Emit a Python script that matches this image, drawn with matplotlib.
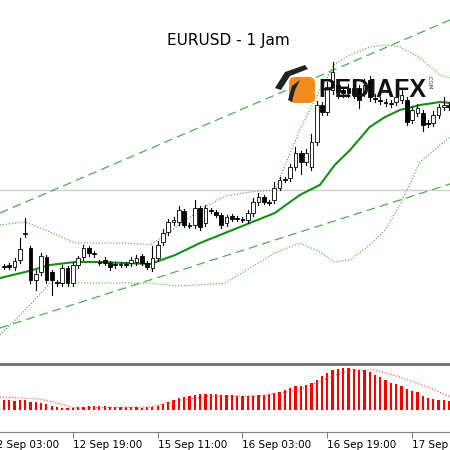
import numpy as np
import matplotlib.pyplot as plt
from matplotlib.patches import Rectangle, FancyBboxPatch, Polygon

# price values are in points below the top of the visible range (chart has no price scale)
opens = [266, 265, 267, 260, 234, 248, 280, 272, 257, 272, 282, 283, 268, 283, 265,
         257, 248, 253, 262, 260, 263, 264, 265, 264, 263, 262, 256, 263, 268, 258,
         242, 232, 222, 222, 211, 225, 225, 208, 223, 210, 212, 215, 223, 216, 218,
         219, 220, 213, 202, 197, 202, 200, 188, 179, 178, 167, 153, 162, 167, 142,
         105, 112, 90, 85, 90, 88, 95, 88, 93, 80, 98, 100, 102, 103, 102,
         100, 100, 120, 113, 113, 123, 123, 115, 107, 105]
closes = [267, 267, 261, 249, 233, 280, 274, 256, 280, 280, 283, 268, 283, 265, 258,
          248, 253, 254, 263, 263, 267, 265, 264, 265, 260, 258, 263, 267, 258, 245,
          233, 222, 220, 210, 225, 226, 208, 227, 208, 211, 215, 225, 217, 219, 219,
          220, 213, 202, 197, 202, 203, 188, 180, 180, 167, 153, 162, 153, 142, 105,
          112, 87, 72, 92, 93, 93, 88, 100, 85, 97, 99, 101, 103, 104, 97,
          95, 122, 110, 108, 125, 124, 115, 107, 105, 107]
wick_up = [2, 2, 3, 11, 15, 2, 4, 3, 2, 2, 2, 3, 2, 3, 2,
           3, 2, 2, 2, 3, 2, 2, 2, 2, 3, 3, 2, 2, 12, 4,
           4, 3, 3, 4, 2, 2, 8, 2, 3, 2, 2, 2, 2, 2, 2,
           2, 3, 4, 4, 2, 2, 6, 3, 2, 3, 6, 2, 4, 8, 4,
           3, 5, 10, 4, 3, 4, 3, 3, 6, 4, 4, 3, 3, 3, 3,
           6, 3, 3, 4, 3, 3, 4, 3, 8, 3]
wick_dn = [2, 2, 3, 3, 3, 3, 10, 3, 3, 15, 3, 3, 3, 3, 3,
           3, 3, 3, 2, 2, 3, 3, 2, 2, 3, 3, 2, 2, 3, 3,
           3, 3, 3, 3, 2, 2, 3, 3, 3, 2, 2, 3, 3, 2, 2,
           2, 3, 3, 3, 2, 2, 3, 2, 2, 3, 3, 12, 3, 3, 3,
           3, 3, 4, 6, 4, 4, 3, 8, 3, 4, 3, 3, 3, 3, 3,
           3, 3, 3, 3, 6, 3, 3, 3, 3, 3]

# indicator lines, sampled along the bar axis
line_x = [-0.75, 4, 8.7, 13.4, 18.1, 22.8, 27.6, 32.3, 37, 41.7, 46.4, 51.1, 55.8,
          59.6, 62.4, 65.3, 69, 71.9, 74.7, 78.5, 82.3, 84.2]
ma = [278, 272, 265, 262, 262, 263, 264, 255, 243, 233, 223, 213, 195, 185, 165, 150,
      127, 117, 110, 105, 102, 103]
upper = [225, 222, 232, 243, 243, 243, 245, 228, 210, 196, 192, 190, 130, 90, 64, 55,
         47, 45, 47, 58, 75, 78]
lower = [335, 310, 283, 283, 283, 283, 283, 286, 285, 283, 268, 253, 243, 252, 262, 260,
         245, 230, 205, 162, 145, 137]

chan_x = [-0.75, 84.15]
chan_top = [213, 20]
chan_bot = [328, 184]
level = 190

macd = [10, 10, 9, 10, 10, 8, 8, 7, 6, 4, 3, 2, 2, 2, 3, 3, 4, 4, 4, 4, 3, 3, 3, 3, 3,
        3, 2, 3, 3, 4, 6, 8, 10, 12, 13, 14, 15, 16, 16, 16, 16, 15, 15, 15, 14, 14, 14,
        14, 15, 15, 16, 17, 18, 20, 22, 24, 24, 25, 27, 30, 34, 37, 40, 41, 42, 42, 41,
        40, 40, 38, 35, 33, 30, 27, 26, 24, 21, 19, 18, 14, 12, 11, 10, 10, 9]
sig_x = [-0.75, 6.8, 10.6, 13.4, 27.6, 32.3, 38.9, 48.3, 55.8, 61.5, 65.3, 70, 74.7, 80.4, 84.2]
signal = [13, 11, 6, 2, 3, 9, 14, 14, 20, 33, 40, 40, 33, 22, 13]

tick_pos = [-2.6, 13, 29, 45, 61, 77]
tick_labels = ['12 Sep 03:00', '12 Sep 19:00', '15 Sep 11:00', '16 Sep 03:00',
               '16 Sep 19:00', '17 Sep 11:00']

fig = plt.figure(figsize=(4.5, 4.5), dpi=100)
ax = fig.add_axes([0, 1 - 363 / 450, 1, 363 / 450])
ax2 = fig.add_axes([0, 1 - 432 / 450, 1, 66 / 450])
xl = (-0.75, 84.15)

# main price panel
ax.axhline(level, color='#d0d0d0', lw=1)
ax.plot(chan_x, chan_top, color='#4caf50', lw=0.9, dashes=(7, 4))
ax.plot(chan_x, chan_bot, color='#4caf50', lw=0.9, dashes=(7, 4))
ax.plot(line_x, upper, color='#3aa83a', lw=0.8, ls=':')
ax.plot(line_x, lower, color='#3aa83a', lw=0.8, ls=':')
ax.plot(line_x, ma, color='#139013', lw=1.5)

w = 0.7
for i, (o, c) in enumerate(zip(opens, closes)):
    top, bot = min(o, c), max(o, c)
    ax.plot([i, i], [top - wick_up[i], bot + wick_dn[i]], color='black', lw=0.8, zorder=3)
    face = 'black' if c > o else 'white'
    ax.add_patch(Rectangle((i - w / 2, top), w, max(bot - top, 0.8), facecolor=face,
                           edgecolor='black', lw=0.6, zorder=4))
ax.set_xlim(*xl)
ax.set_ylim(363, 0)
ax.axis('off')

# histogram panel
ax2.bar(np.arange(len(macd)), macd, width=0.42, color='red')
ax2.plot(sig_x, signal, color='#f04040', lw=0.8, ls=':')
ax2.set_xlim(*xl)
ax2.set_ylim(-22, 44)
for s in ['left', 'right', 'top']:
    ax2.spines[s].set_visible(False)
ax2.spines['bottom'].set_color('#808080')
ax2.set_yticks([])
ax2.set_xticks([t for t in tick_pos if t > xl[0]])
ax2.set_xticklabels([])
ax2.tick_params(axis='x', length=4, color='#808080')
for pos, lab in zip(tick_pos, tick_labels):
    ax2.text(pos, -0.12, lab, transform=ax2.get_xaxis_transform(), ha='left', va='top',
             fontsize=7.5, clip_on=False)

# overlay in pixel coordinates for separator, title and logo
ov = fig.add_axes([0, 0, 1, 1], zorder=10)
ov.set_xlim(0, 450)
ov.set_ylim(450, 0)
ov.axis('off')
ov.plot([0, 450], [364, 364], color='#707070', lw=2)
ov.text(228, 40, 'EURUSD - 1 Jam', ha='center', va='center', fontsize=11)
ov.add_patch(FancyBboxPatch((291, 79), 22, 22, boxstyle='round,pad=2,rounding_size=6',
                            facecolor='#f28c1e', edgecolor='none'))
ov.add_patch(Polygon([(275, 88), (285, 72), (305, 65), (308, 69), (290, 76), (281, 90)],
                     facecolor='#222222', edgecolor='none'))
ov.add_patch(Polygon([(288, 100), (292, 86), (300, 80), (295, 90), (292, 102)],
                     facecolor='#222222', edgecolor='none'))
ov.text(318, 97, 'PEDIAFX', ha='left', va='baseline', fontsize=18, fontweight='bold',
        family='Liberation Sans', color='#111111')
ov.text(429, 82, '.COM', ha='center', va='center', fontsize=4, rotation=-90, color='#333333')

fig.savefig('out.png', dpi=100, facecolor='white')
